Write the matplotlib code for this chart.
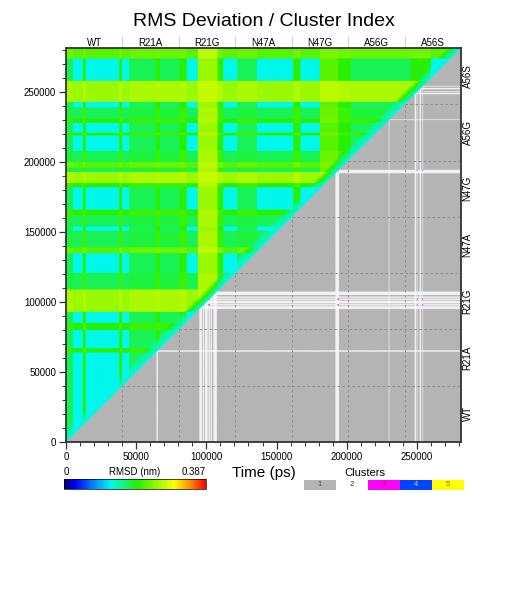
import numpy as np
import matplotlib
matplotlib.use("Agg")
import matplotlib.pyplot as plt
from matplotlib.colors import LinearSegmentedColormap, ListedColormap, Normalize
from matplotlib.cm import ScalarMappable
from matplotlib.ticker import MultipleLocator

plt.rcParams["font.family"] = ["Liberation Sans", "DejaVu Sans"]

# --- data ----------------------------------------------------------------
T_END = 281400          # ps, last frame
STEP = 500              # ps per frame
SEG = 40200             # ps per system
systems = ["WT", "R21A", "R21G", "N47A", "N47G", "A56G", "A56S"]

rmsd_max = 0.387
rmsd_base = 0.13
levels = {"low": 0.0, "lowmed": 0.045, "med": 0.072, "medhigh": 0.095,
          "high": 0.125}

# (start kps, end kps, level) for rows (y) of the rmsd half
row_bands = [
    (0, 64, "low"), (64, 67, "med"), (67, 80, "low"), (80, 85, "med"),
    (85, 93, "low"), (93, 109, "high"), (109, 121, "lowmed"), (121, 135, "low"),
    (135, 139, "medhigh"), (139, 151, "lowmed"), (151, 154, "low"),
    (154, 162, "lowmed"), (162, 166, "med"), (166, 182, "low"), (182, 185, "med"),
    (185, 193, "high"), (193, 196, "lowmed"), (196, 200, "medhigh"),
    (200, 208, "lowmed"), (208, 219, "low"), (219, 221, "med"), (221, 228, "low"),
    (228, 231, "med"), (231, 239, "lowmed"), (239, 243, "low"), (243, 258, "high"),
    (258, 274, "low"), (274, 282, "medhigh"),
]
# same for columns (x)
col_bands = [
    (0, 5, "lowmed"), (5, 12, "low"), (12, 14, "med"), (14, 38, "low"),
    (38, 40, "med"), (40, 45, "low"), (45, 64, "lowmed"), (64, 67, "med"),
    (67, 81, "lowmed"), (81, 86, "med"), (86, 94, "low"), (94, 108, "high"),
    (108, 112, "med"), (112, 122, "low"), (122, 136, "lowmed"), (136, 162, "low"),
    (162, 167, "med"), (167, 181, "low"), (181, 194, "medhigh"), (194, 203, "med"),
    (203, 246, "lowmed"), (246, 260, "med"), (260, 282, "low"),
]
near_diag = 10000       # ps, width of the low-rmsd strip by the diagonal

# frames outside cluster 1 (kps ranges)
cluster2_frames = [(64.5, 65.5), (95, 97), (99, 101), (103, 104), (105, 107.5),
                   (192, 193.5), (230, 230.5), (248.5, 249.5), (252, 253)]
cluster3_frames = [(97.5, 98.5), (101.5, 102.5), (193.5, 194.5),
                   (250, 250.5), (254, 254.5)]

cluster_ids = [1, 2, 3, 4, 5]
cluster_colors = ["#b4b4b4", "#ffffff", "#ff00ff", "#0044ff", "#ffff00"]
cluster_text = ["#555555", "#333333", "#c01840", "#c8d4ff", "#806000"]

# --- build matrices -------------------------------------------------------
t = np.arange(0, T_END, STEP) + STEP / 2


def profile(bands):
    p = np.zeros_like(t)
    for a, b, lev in bands:
        p[(t >= a * 1000) & (t < b * 1000)] = levels[lev]
    return p


r = profile(row_bands)
c = profile(col_bands)
R, C = np.meshgrid(r, c, indexing="ij")
Y, X = np.meshgrid(t, t, indexing="ij")
w = np.clip(np.abs(Y - X) / near_diag, 0, 1)
rmsd = rmsd_base + w * (np.maximum(R, C) + 0.15 * np.minimum(R, C))

clust = np.ones_like(t, dtype=int)
for a, b in cluster2_frames:
    clust[(t >= a * 1000) & (t < b * 1000)] = 2
for a, b in cluster3_frames:
    clust[(t >= a * 1000) & (t < b * 1000)] = 3
CI, CJ = np.meshgrid(clust, clust, indexing="ij")
pair = np.where(CI == CJ, CI, 0)

rmsd_cmap = LinearSegmentedColormap.from_list("rmsd", [
    (0.0, "#000070"), (0.08, "#0000ff"), (0.2, "#0080ff"), (0.33, "#00f8f0"),
    (0.52, "#28f000"), (0.78, "#ffff00"), (0.9, "#ff8000"), (1.0, "#ff0000")])
norm = Normalize(0, rmsd_max)
clus_cmap = ListedColormap(["#f2f2f2"] + cluster_colors)

rgb = np.where((Y >= X)[..., None], rmsd_cmap(norm(rmsd)), clus_cmap(pair))

# --- figure ---------------------------------------------------------------
fig = plt.figure(figsize=(5.06, 5.98), dpi=100)
ax = fig.add_axes([66 / 506, 156 / 598, 395 / 506, 394 / 598])
ax.imshow(rgb, origin="lower", extent=(0, T_END, 0, T_END), aspect="auto",
          interpolation="antialiased")
ax.set_xlim(0, T_END)
ax.set_ylim(0, T_END)

bounds = [SEG * k for k in range(1, 7)]
for b in bounds:
    ax.plot([b, b], [0, b], ls=(0, (3, 3)), color="#888888", lw=0.6)
    ax.plot([b, T_END], [b, b], ls=(0, (3, 3)), color="#888888", lw=0.6)
    ax.plot([b, b], [1.0, 1.028], color="#d4d4d4", lw=0.8,
            transform=ax.get_xaxis_transform(), clip_on=False)

for k, name in enumerate(systems):
    mid = SEG * (k + 0.5)
    ax.text(mid, 1.013, name, transform=ax.get_xaxis_transform(),
            ha="center", va="center", fontsize=7)
    ax.text(1.017, mid, name, transform=ax.get_yaxis_transform(),
            ha="center", va="center", rotation=90, fontsize=7)

ax.set_xticks(np.arange(0, 250001, 50000))
ax.set_yticks(np.arange(0, 250001, 50000))
ax.xaxis.set_minor_locator(MultipleLocator(10000))
ax.yaxis.set_minor_locator(MultipleLocator(10000))
ax.tick_params(which="major", length=5, width=0.9, direction="out",
               labelsize=7, pad=2, color="#333333")
ax.tick_params(which="minor", length=3, width=0.7, direction="out",
               color="#333333")
for s in ax.spines.values():
    s.set_linewidth(1.3)
    s.set_color("#333333")

fig.text(263.5 / 506, 1 - 22 / 598, "RMS Deviation / Cluster Index",
         ha="center", va="center", fontsize=14)
fig.text(263.5 / 506, 1 - 473 / 598, "Time (ps)", ha="center", va="center",
         fontsize=11)

# colorbar
cax = fig.add_axes([64 / 506, 109 / 598, 142 / 506, 10 / 598])
cb = fig.colorbar(ScalarMappable(norm, rmsd_cmap), cax=cax,
                  orientation="horizontal")
cb.set_ticks([])
cb.outline.set_linewidth(0.5)
fig.text(66 / 506, 1 - 472 / 598, "0", ha="center", va="center", fontsize=7)
fig.text(134.5 / 506, 1 - 472 / 598, "RMSD (nm)", ha="center", va="center",
         fontsize=7)
fig.text(206 / 506, 1 - 472 / 598, "0.387", ha="right", va="center",
         fontsize=7)

# cluster legend
lax = fig.add_axes([304 / 506, 108 / 598, 160 / 506, 10 / 598])
lax.bar(range(len(cluster_ids)), 1, width=1, color=cluster_colors)
for k, cid in enumerate(cluster_ids):
    lax.text(k, 0.5, str(cid), ha="center", va="center", fontsize=5.5,
             color=cluster_text[k])
lax.set_xlim(-0.5, len(cluster_ids) - 0.5)
lax.set_ylim(0, 1)
lax.axis("off")
fig.text(365 / 506, 1 - 473 / 598, "Clusters", ha="center", va="center",
         fontsize=8)

fig.savefig("out.png", dpi=100)
